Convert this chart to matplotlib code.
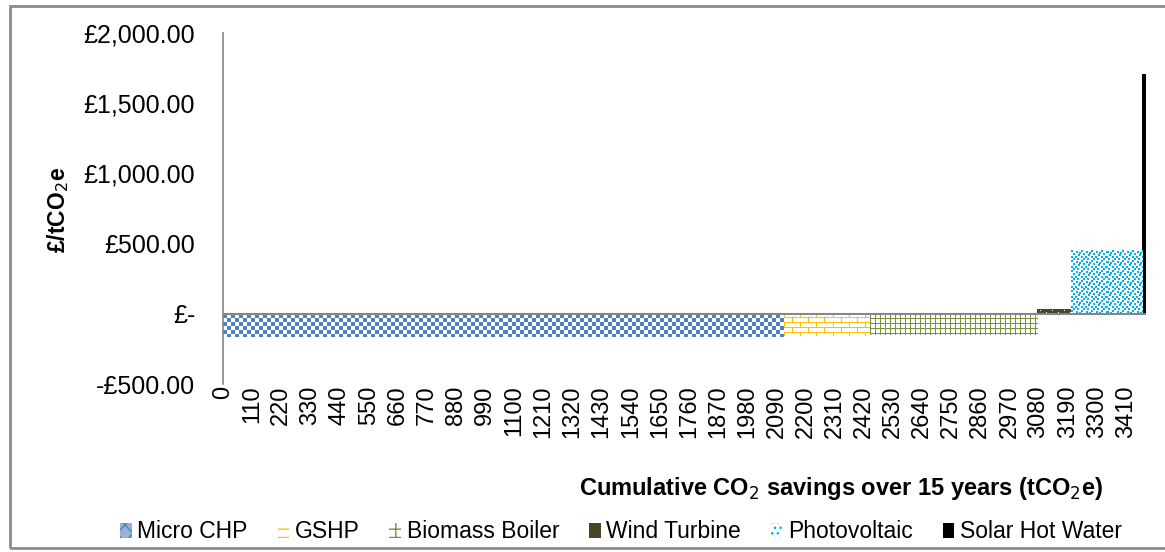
"""MACC chart - cost per tCO2e vs cumulative savings"""

import numpy as np
import matplotlib
matplotlib.use('Agg')
import matplotlib.pyplot as plt
from matplotlib.patches import Patch, Rectangle
from matplotlib.colors import to_rgb

plt.rcParams['font.family'] = ['Liberation Sans', 'DejaVu Sans']

# data
technologies = ['Micro CHP', 'GSHP', 'Biomass Boiler', 'Wind Turbine',
                'Photovoltaic', 'Solar Hot Water']
savings = [2120, 322, 633, 127, 269, 15]          # tCO2e, bar widths
cost = [-163, -160, -154, 35, 454, 1711]          # £/tCO2e, bar heights

x_ticks = [0, 110, 220, 330, 440, 550, 660, 770, 880, 990, 1100, 1210, 1320,
           1430, 1540, 1650, 1760, 1870, 1980, 2090, 2200, 2310, 2420, 2530,
           2640, 2750, 2860, 2970, 3080, 3190, 3300, 3410]
y_ticks = [-500, 0, 500, 1000, 1500, 2000]
y_labels = ['-£500.00', '£-', '£500.00', '£1,000.00', '£1,500.00', '£2,000.00']

COLORS = {
    'Micro CHP': '#4F81BD',
    'GSHP': '#FFC000',
    'Biomass Boiler': '#77933C',
    'Wind Turbine': '#4A452A',
    'Photovoltaic': '#00B0F0',
    'Solar Hot Water': '#000000',
}


def tile_checker():
    t = np.zeros((8, 8), int)
    t[:4, :4] = 1
    t[4:, 4:] = 1
    return t


def tile_brick():
    t = np.zeros((9, 16), int)
    t[0, :] = 1
    t[1:4, 0] = 1
    t[4, :] = 1
    t[5:9, 8] = 1
    return t


def tile_grid():
    t = np.zeros((5, 5), int)
    t[0, :] = 1
    t[:, 0] = 1
    return t


def tile_confetti():
    t = np.zeros((10, 10), int)
    for r, c in [(0, 0), (1, 5), (3, 2), (4, 7), (6, 0), (6, 4), (8, 6), (8, 2), (2, 8)]:
        t[r:r + 2, c:c + 2] = 1
    return t


def tile_dark():
    t = np.ones((6, 12), int)
    t[1, 3] = 0
    t[3, 9] = 0
    return t


TILES = {
    'Micro CHP': tile_checker(),
    'GSHP': tile_brick(),
    'Biomass Boiler': tile_grid(),
    'Wind Turbine': tile_dark(),
    'Photovoltaic': tile_confetti(),
}


def fill_texture(ax, bar, tile, color):
    x0, w = bar.get_x(), bar.get_width()
    y0, y1 = sorted([bar.get_y(), bar.get_y() + bar.get_height()])
    (px0, py0), (px1, py1) = ax.transData.transform([(x0, y0), (x0 + w, y1)])
    nx = max(int(round(abs(px1 - px0))), 1)
    ny = max(int(round(abs(py1 - py0))), 1)
    reps = (ny // tile.shape[0] + 1, nx // tile.shape[1] + 1)
    mask = np.tile(tile, reps)[:ny, :nx]
    img = np.ones((ny, nx, 3))
    img[mask == 1] = to_rgb(color)
    ax.imshow(img, extent=[x0, x0 + w, y0, y1], aspect='auto',
              interpolation='nearest', zorder=2)


fig = plt.figure(figsize=(11.65, 5.52), dpi=100)
ax = fig.add_axes([223 / 1165, 1 - 384 / 552, 923 / 1165, 351 / 552])

lefts = np.concatenate([[0], np.cumsum(savings)[:-1]])
xmax = float(np.sum(savings))
ax.set_xlim(0, xmax)
ax.set_ylim(-500, 2000)

bars = ax.bar(lefts, cost, width=savings, align='edge', linewidth=0,
              color=[COLORS[t] for t in technologies], zorder=1)
for name, b in zip(technologies, bars):
    if name in TILES:
        b.set_facecolor('white')
        fill_texture(ax, b, TILES[name], COLORS[name])
ax.set_xlim(0, xmax)
ax.set_ylim(-500, 2000)

ax.axhline(0, color='#868686', lw=1.5, zorder=3)

for s in ['top', 'right', 'bottom']:
    ax.spines[s].set_visible(False)
ax.spines['left'].set_color('#868686')
ax.spines['left'].set_linewidth(1.2)

ax.set_yticks(y_ticks)
ax.set_yticklabels(y_labels, fontsize=18)
ax.tick_params(axis='y', length=0, pad=20)
ax.set_yticks([0, 1000, 2000], minor=True)
ax.tick_params(axis='y', which='minor', length=10, color='#868686', width=1.2)

ax.set_xticks(x_ticks)
ax.set_xticklabels([str(v) for v in x_ticks], rotation=90, fontsize=17)
ax.tick_params(axis='x', length=0, pad=1)

fig.text(58 / 1165, 1 - 210 / 552, '£/tCO$_2$e', rotation=90, fontsize=16.5,
         fontweight='bold', ha='center', va='center')
fig.text(841 / 1165, 1 - 488 / 552,
         'Cumulative CO$_2$ savings over 15 years (tCO$_2$e)',
         fontsize=17, fontweight='bold', ha='center', va='center')

handles = [
    Patch(facecolor='#95B3D7', edgecolor='#4F81BD', lw=0, hatch='xx', label='Micro CHP'),
    Patch(facecolor='white', edgecolor='#FFC000', lw=0, hatch='--', label='GSHP'),
    Patch(facecolor='white', edgecolor='#77933C', lw=0, hatch='++', label='Biomass Boiler'),
    Patch(facecolor='#4A452A', label='Wind Turbine'),
    Patch(facecolor='white', edgecolor='#00B0F0', lw=0, hatch='...', label='Photovoltaic'),
    Patch(facecolor='black', label='Solar Hot Water'),
]
fig.legend(handles=handles, loc='center', bbox_to_anchor=(621 / 1165, 1 - 532 / 552),
           ncol=6, frameon=False, fontsize=16.5, handlelength=0.5, handleheight=0.6,
           handletextpad=0.25, columnspacing=1.3, borderaxespad=0)

fig.patches.append(Rectangle((10 / 1165, 4 / 552), 1.2, 1 - 9.5 / 552,
                             transform=fig.transFigure, fill=False,
                             edgecolor='#8c8c8c', lw=2, zorder=0))

fig.savefig('out.png', dpi=100)
